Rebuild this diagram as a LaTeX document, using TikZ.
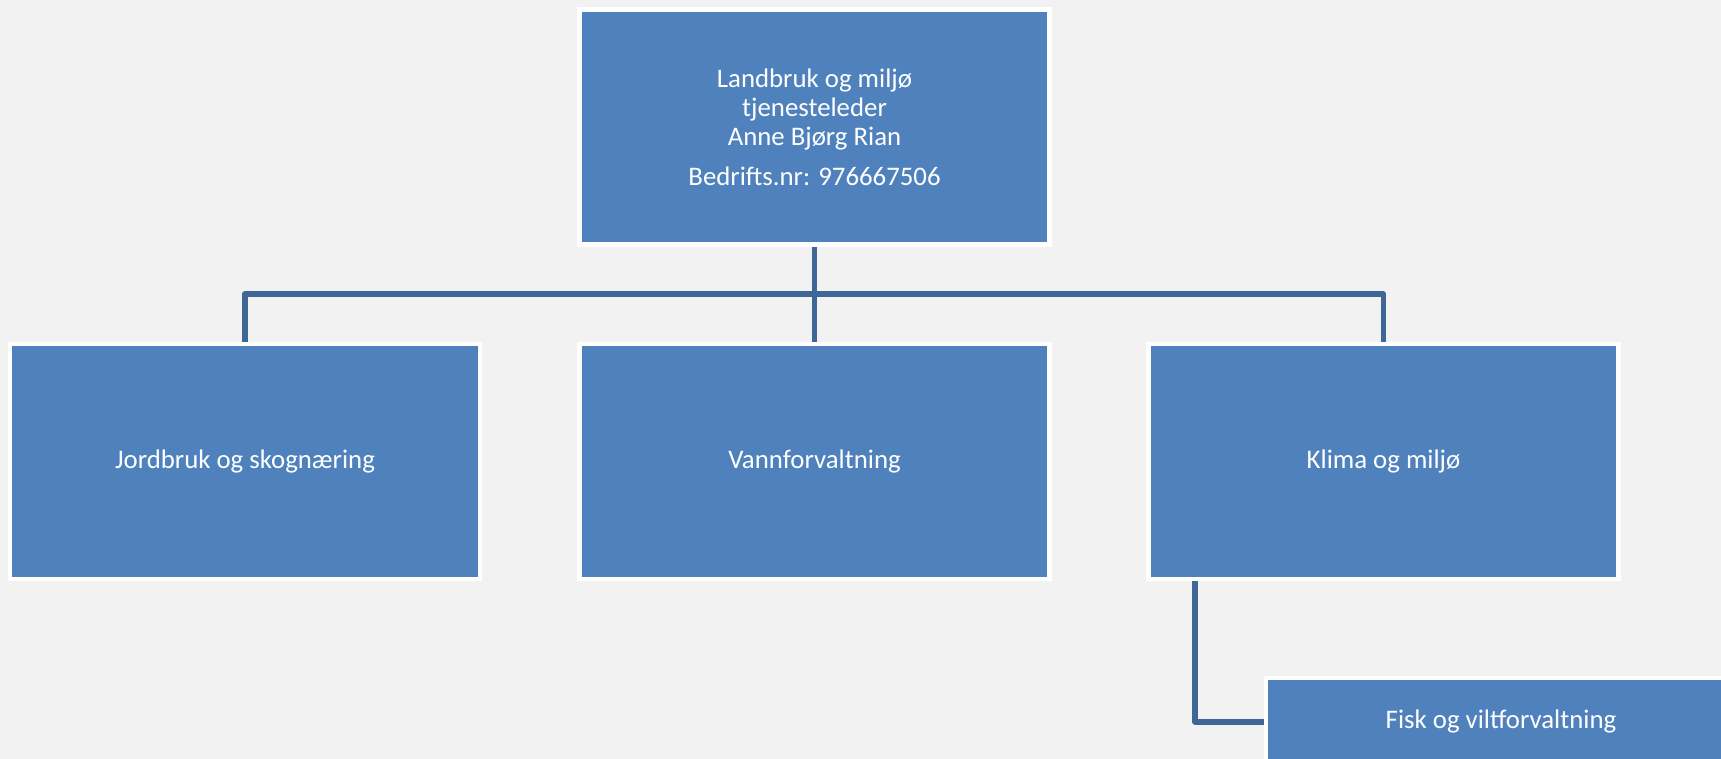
\documentclass[tikz,border=0pt]{standalone}
\usepackage{fontspec}
\setmainfont{Carlito}
\definecolor{bgc}{HTML}{F2F2F2}
\definecolor{boxc}{HTML}{4F81BD}
\definecolor{linec}{HTML}{3E6797}
\tikzset{
  orgbox/.style={fill=boxc, draw=white, line width=4.5pt, minimum width=470pt, minimum height=235pt,
    inner sep=0pt, text=white, font=\fontsize{26.8}{29}\selectfont, align=center},
  conn/.style={draw=linec, line width=5.5pt, line join=round}
}
\begin{document}
\begin{tikzpicture}[x=1pt,y=-1pt]
\useasboundingbox (0,0) rectangle (1721,759);
\fill[bgc] (0,0) rectangle (1721,759);
\coordinate (bus) at (0,294);
\node[orgbox] (top) at (814.5,127) {Landbruk og miljø\\tjenesteleder\\Anne Bjørg Rian\\[11pt]Bedrifts.nr: 976667506};
\node[orgbox] (jord) at (245,461.5) {Jordbruk og skognæring};
\node[orgbox] (vann) at (814.5,461.5) {Vannforvaltning};
\node[orgbox] (klima) at (1383.5,461.5) {Klima og miljø};
\node[orgbox, minimum height=87.5pt] (fisk) at (1501,721.75) {Fisk og viltforvaltning};
\draw[conn] (top.south) -- (top.south |- bus);
\draw[conn] (jord.north) -- (jord.north |- bus) -- (klima.north |- bus) -- (klima.north);
\draw[conn] (vann.north) -- (vann.north |- bus);
\draw[conn] ([xshift=48.75pt]klima.south west) |- (fisk.west);
\end{tikzpicture}
\end{document}
